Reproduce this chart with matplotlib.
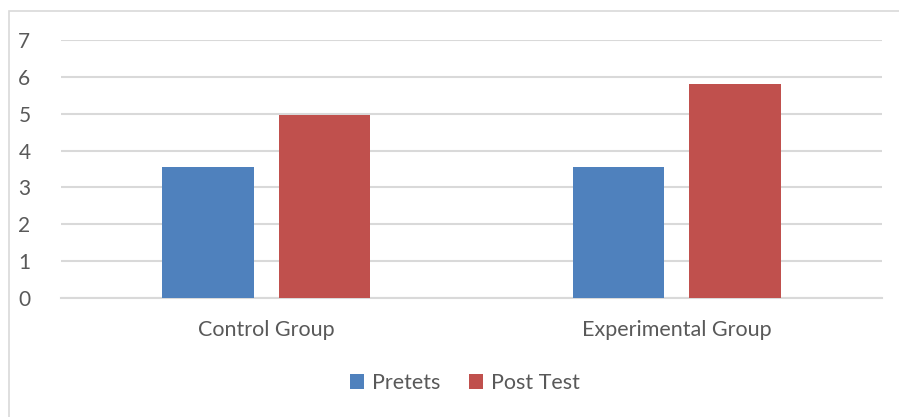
import numpy as np
import matplotlib.pyplot as plt
from matplotlib.patches import Rectangle

# Данные
groups = ['Control Group', 'Experimental Group']
pretest = [3.55, 3.55]
posttest = [4.96, 5.81]
yticks = [0, 1, 2, 3, 4, 5, 6, 7]

plt.rcParams['font.family'] = ['Lato', 'DejaVu Sans']
txt = '#595959'

fig = plt.figure(figsize=(8.99, 4.17), dpi=100)
ax = fig.add_axes([61/899, 1-298/417, (882-61)/899, (298-40)/417])

# рамка вокруг диаграммы
fig.patches.append(Rectangle((9/899, -0.1), 1.2, 1-11/417+0.1, transform=fig.transFigure,
                             fill=False, edgecolor='#d9d9d9', linewidth=1.2))

x = np.arange(len(groups))
w = 0.223
off = 0.142
ax.bar(x - off, pretest, w, color='#4F81BD', label='Pretets', zorder=3)
ax.bar(x + off, posttest, w, color='#C0504D', label='Post Test', zorder=3)

ax.set_xlim(-0.5, 1.5)
ax.set_ylim(0, 7)
ax.set_yticks(yticks)
ax.yaxis.grid(True, color='#d9d9d9', linewidth=1.5, zorder=0)
ax.set_axisbelow(True)
for s in ['top', 'right', 'left']:
    ax.spines[s].set_visible(False)
ax.spines['bottom'].set_color('#d9d9d9')
ax.spines['bottom'].set_linewidth(1.5)
ax.tick_params(axis='y', length=0, pad=22, labelsize=15, labelcolor=txt)
ax.tick_params(axis='x', length=0, pad=16, labelsize=15.5, labelcolor=txt)
ax.set_xticks(x)
ax.set_xticklabels(groups)

fig.legend(loc='center', bbox_to_anchor=(465/899, 1-383/417), ncol=2, frameon=False,
           fontsize=15.5, labelcolor=txt, handlelength=0.65, handleheight=0.65,
           handletextpad=0.4, columnspacing=1.3)

plt.savefig('out.png', dpi=100)
